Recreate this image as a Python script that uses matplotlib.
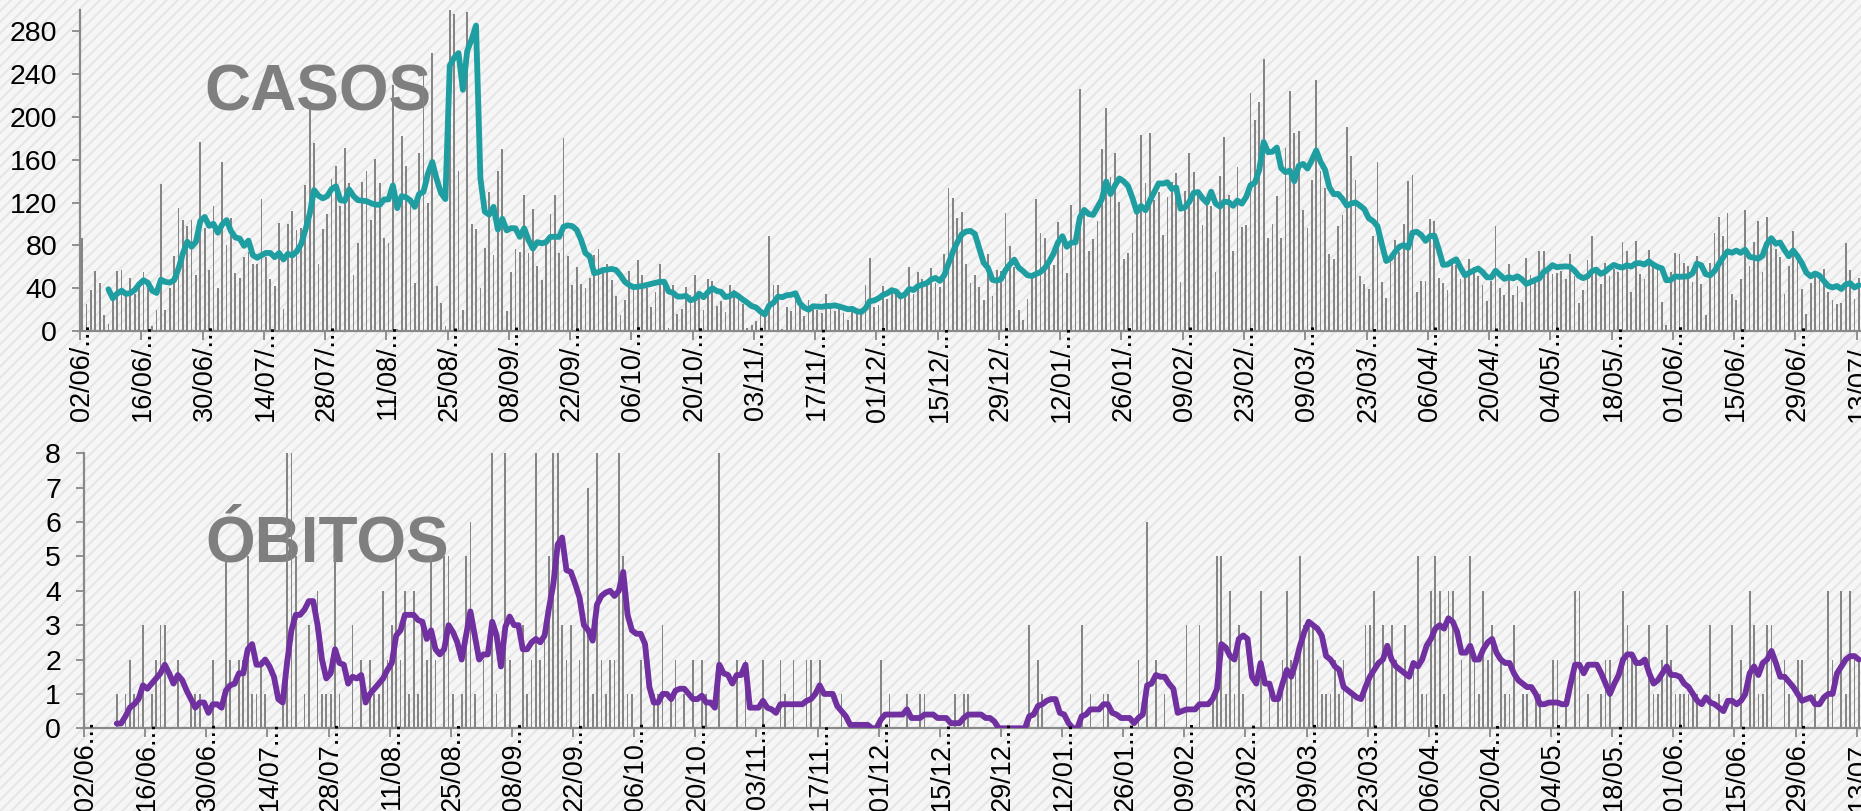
import numpy as np
import pandas as pd
import matplotlib
matplotlib.use("Agg")
import matplotlib.pyplot as plt
from matplotlib.patches import Rectangle
from matplotlib.transforms import ScaledTranslation, blended_transform_factory

# ---------------- data ----------------
inicio = "2020-06-02"

casos = [
    87, 25, 38, 56, 45, 15, 7, 28, 56, 57,
    35, 50, 35, 44, 55, 40, 5, 20, 137, 20,
    40, 70, 115, 104, 98, 104, 52, 177, 96, 57,
    117, 40, 158, 80, 106, 54, 50, 69, 74, 63,
    63, 123, 69, 49, 42, 101, 21, 100, 112, 94,
    96, 136, 208, 176, 63, 95, 109, 142, 154, 117,
    171, 138, 52, 82, 139, 150, 104, 161, 138, 87,
    82, 230, 2, 182, 154, 117, 45, 166, 244, 120,
    260, 42, 26, 5, 1039, 296, 150, 20, 298, 100,
    95, 40, 78, 130, 71, 150, 170, 19, 55, 77,
    74, 127, 73, 114, 61, 48, 84, 109, 127, 73,
    180, 70, 43, 60, 44, 40, 50, 71, 77, 57,
    63, 48, 33, 15, 29, 56, 43, 66, 52, 40,
    22, 36, 63, 43, 3, 43, 16, 21, 41, 34,
    52, 37, 20, 49, 47, 23, 28, 18, 43, 38,
    30, 25, 3, 6, 9, 16, 19, 89, 43, 43,
    2, 22, 19, 29, 24, 14, 29, 25, 20, 17,
    35, 23, 19, 21, 17, 10, 20, 19, 18, 43,
    68, 22, 24, 42, 30, 38, 35, 35, 35, 60,
    35, 55, 49, 44, 59, 45, 41, 72, 134, 124,
    106, 111, 63, 45, 52, 41, 29, 72, 33, 57,
    56, 110, 79, 60, 20, 10, 30, 51, 123, 92,
    87, 63, 62, 102, 91, 54, 118, 91, 226, 110,
    75, 86, 103, 170, 208, 144, 166, 121, 67, 73,
    92, 116, 183, 138, 185, 122, 130, 90, 125, 139,
    148, 46, 131, 166, 149, 130, 99, 119, 117, 55,
    145, 181, 127, 75, 153, 97, 99, 222, 197, 214,
    254, 87, 100, 126, 87, 171, 224, 185, 187, 113,
    96, 141, 235, 150, 134, 72, 67, 98, 108, 191,
    164, 141, 51, 44, 39, 89, 158, 46, 31, 68,
    85, 74, 100, 140, 146, 36, 47, 47, 105, 103,
    50, 45, 38, 66, 62, 49, 54, 67, 60, 51,
    43, 28, 47, 98, 40, 34, 63, 34, 42, 27,
    68, 52, 47, 75, 75, 61, 53, 54, 56, 49,
    72, 51, 26, 38, 66, 89, 60, 44, 64, 51,
    58, 55, 83, 75, 36, 84, 53, 49, 76, 62,
    59, 27, 6, 55, 73, 72, 64, 61, 46, 70,
    44, 15, 64, 92, 107, 89, 110, 35, 29, 49,
    113, 61, 83, 103, 55, 107, 85, 77, 69, 35,
    61, 93, 69, 39, 16, 45, 53, 48, 58, 36,
    29, 25, 26, 82, 57, 30, 50,
]

obitos = [
    0, 0, 0, 0, 0, 0, 0, 1, 0, 1,
    2, 1, 1, 3, 0, 1, 2, 3, 3, 0,
    0, 2, 0, 0, 1, 1, 1, 0, 0, 2,
    0, 0, 5, 2, 0, 2, 2, 5, 1, 1,
    2, 1, 0, 0, 0, 1, 8, 9, 5, 0,
    1, 3, 0, 4, 1, 1, 1, 5, 1, 0,
    0, 3, 0, 2, 0, 2, 1, 1, 4, 2,
    3, 5, 2, 4, 1, 4, 1, 3, 2, 5,
    2, 0, 5, 5, 1, 0, 1, 5, 6, 1,
    0, 2, 0, 8, 1, 0, 9, 2, 0, 0,
    3, 1, 2, 8, 2, 3, 5, 8, 8, 3,
    2, 3, 0, 2, 3, 7, 1, 11, 2, 1,
    2, 2, 9, 5, 1, 1, 0, 2, 0, 0,
    1, 1, 3, 0, 1, 2, 0, 1, 0, 2,
    0, 2, 1, 0, 0, 9, 0, 0, 0, 2,
    0, 2, 0, 0, 0, 2, 0, 0, 0, 2,
    1, 0, 2, 0, 0, 2, 2, 0, 2, 0,
    0, 0, 0, 1, 0, 0, 0, 0, 0, 0,
    0, 0, 2, 0, 1, 0, 0, 0, 1, 0,
    0, 1, 1, 0, 0, 0, 0, 0, 0, 1,
    0, 1, 1, 0, 0, 0, 0, 0, 0, 0,
    0, 0, 0, 0, 0, 0, 3, 0, 2, 1,
    0, 0, 0, 0, 0, 0, 0, 0, 3, 0,
    1, 0, 0, 1, 1, 0, 0, 0, 0, 0,
    0, 2, 0, 6, 0, 2, 0, 1, 0, 0,
    0, 0, 3, 0, 0, 3, 0, 0, 1, 5,
    5, 1, 4, 1, 3, 1, 0, 0, 0, 4,
    0, 1, 0, 1, 2, 4, 2, 2, 5, 3,
    3, 3, 2, 1, 1, 1, 2, 1, 2, 0,
    1, 0, 0, 3, 3, 4, 0, 3, 0, 3,
    2, 0, 3, 0, 2, 5, 1, 1, 4, 5,
    4, 1, 4, 4, 0, 2, 0, 5, 2, 1,
    4, 2, 3, 0, 2, 1, 1, 3, 0, 1,
    1, 0, 1, 1, 0, 0, 2, 2, 0, 1,
    0, 4, 4, 0, 1, 0, 0, 1, 2, 2,
    0, 0, 4, 3, 2, 2, 0, 0, 3, 1,
    1, 2, 3, 2, 1, 1, 1, 1, 1, 1,
    0, 0, 3, 0, 1, 0, 0, 3, 0, 2,
    0, 4, 3, 1, 1, 3, 3, 0, 0, 2,
    1, 0, 2, 2, 0, 0, 1, 0, 0, 4,
    2, 0, 4, 1, 4, 2, 2,
]

obitos_media = [
    None, None, None, None, None, None, None, 0.14, 0.14, 0.35,
    0.6, 0.7, 0.85, 1.25, 1.15, 1.3, 1.45, 1.6, 1.85, 1.6,
    1.3, 1.55, 1.4, 1.1, 0.85, 0.6, 0.75, 0.75, 0.45, 0.7,
    0.7, 0.6, 1.1, 1.25, 1.3, 1.6, 1.6, 2.3, 2.45, 1.85,
    1.85, 2.0, 1.8, 1.5, 0.85, 0.75, 1.9, 2.85, 3.3, 3.3,
    3.45, 3.7, 3.7, 3.0, 2.0, 1.45, 1.6, 2.3, 1.9, 1.85,
    1.3, 1.5, 1.45, 1.55, 0.75, 1.0, 1.15, 1.3, 1.45, 1.7,
    1.9, 2.7, 2.85, 3.3, 3.3, 3.3, 3.15, 3.1, 2.6, 2.85,
    2.3, 2.15, 2.3, 3.0, 2.8, 2.5, 2.0, 2.7, 3.4, 2.7,
    2.0, 2.15, 2.15, 3.1, 2.7, 1.8, 2.95, 3.25, 3.0, 3.0,
    2.3, 2.3, 2.5, 2.6, 2.5, 2.7, 3.5, 4.2, 5.35, 5.55,
    4.6, 4.55, 4.2, 3.8, 3.0, 2.85, 2.55, 3.6, 3.85, 3.95,
    4.0, 3.85, 4.0, 4.55, 3.3, 2.85, 2.75, 2.75, 2.45, 1.2,
    0.75, 0.75, 1.0, 1.0, 0.85, 1.1, 1.15, 1.15, 1.0, 0.85,
    0.85, 0.95, 0.75, 0.75, 0.6, 1.85, 1.6, 1.55, 1.3, 1.55,
    1.55, 1.85, 0.6, 0.6, 0.6, 0.8, 0.6, 0.55, 0.45, 0.7,
    0.7, 0.7, 0.7, 0.7, 0.7, 0.8, 0.85, 1.0, 1.25, 1.0,
    1.0, 1.0, 0.65, 0.5, 0.35, 0.1, 0.1, 0.1, 0.1, 0.1,
    0.0, 0.0, 0.25, 0.4, 0.4, 0.4, 0.4, 0.4, 0.55, 0.3,
    0.3, 0.3, 0.4, 0.4, 0.4, 0.3, 0.3, 0.3, 0.15, 0.15,
    0.15, 0.3, 0.4, 0.4, 0.4, 0.4, 0.3, 0.3, 0.2, 0.0,
    0.0, 0.0, 0.0, 0.0, 0.0, 0.0, 0.35, 0.4, 0.65, 0.7,
    0.8, 0.85, 0.85, 0.45, 0.4, 0.15, 0.0, 0.0, 0.35, 0.4,
    0.55, 0.55, 0.55, 0.7, 0.7, 0.45, 0.4, 0.3, 0.3, 0.3,
    0.15, 0.3, 0.4, 1.25, 1.3, 1.55, 1.5, 1.5, 1.3, 1.15,
    0.45, 0.5, 0.55, 0.55, 0.55, 0.7, 0.7, 0.7, 0.85, 1.15,
    2.45, 2.35, 2.1, 2.0, 2.6, 2.7, 2.6, 1.5, 1.3, 1.9,
    1.3, 1.3, 0.85, 0.85, 1.3, 1.7, 1.5, 1.9, 2.4, 2.8,
    3.1, 3.0, 2.9, 2.7, 2.1, 2.0, 1.8, 1.7, 1.2, 1.1,
    1.0, 0.9, 0.85, 1.2, 1.5, 1.7, 1.9, 2.0, 2.4, 2.0,
    1.8, 1.7, 1.6, 1.5, 1.9, 1.8, 2.0, 2.4, 2.6, 2.9,
    3.0, 2.9, 3.2, 3.1, 2.8, 2.2, 2.2, 2.4, 2.0, 2.0,
    2.3, 2.5, 2.6, 2.2, 2.0, 1.9, 1.9, 1.6, 1.4, 1.3,
    1.2, 1.2, 1.0, 0.7, 0.7, 0.75, 0.75, 0.75, 0.7, 0.7,
    1.3, 1.85, 1.85, 1.6, 1.85, 1.85, 1.85, 1.6, 1.3, 1.0,
    1.3, 1.55, 2.0, 2.15, 2.15, 1.9, 1.9, 2.0, 1.6, 1.3,
    1.4, 1.6, 1.8, 1.55, 1.55, 1.5, 1.3, 1.2, 1.0, 0.8,
    0.7, 0.9, 0.75, 0.7, 0.6, 0.5, 0.8, 0.8, 0.7, 0.8,
    1.0, 1.6, 1.8, 1.55, 1.9, 2.0, 2.25, 1.9, 1.5, 1.5,
    1.35, 1.2, 1.0, 0.8, 0.85, 0.9, 0.7, 0.7, 0.9, 1.0,
    1.0, 1.6, 1.8, 2.0, 2.1, 2.1, 2.0,
]

datas_rotulos = ["02/06", "16/06", "30/06", "14/07", "28/07", "11/08", "25/08",
                 "08/09", "22/09", "06/10", "20/10", "03/11", "17/11", "01/12",
                 "15/12", "29/12", "12/01", "26/01", "09/02", "23/02", "09/03",
                 "23/03", "06/04", "20/04", "04/05", "18/05", "01/06", "15/06",
                 "29/06", "13/07"]
rotulos_casos = [d + "/..." for d in datas_rotulos]
rotulos_obitos = [d + "..." for d in datas_rotulos]

yticks_casos = [0, 40, 80, 120, 160, 200, 240, 280]
yticks_obitos = [0, 1, 2, 3, 4, 5, 6, 7, 8]

# ---------------- figure ----------------
W, H = 1861, 811
plt.rcParams["font.family"] = ["Liberation Sans", "DejaVu Sans"]
plt.rcParams["hatch.linewidth"] = 1.5

fig = plt.figure(figsize=(W / 100, H / 100), dpi=100)
bg = Rectangle((0, 0), 1, 1, transform=fig.transFigure, facecolor="#f6f6f6",
               edgecolor="#e6e6e6", hatch="///", linewidth=0, zorder=-10)
fig.patches.append(bg)

dias = pd.date_range(inicio, periods=len(casos), freq="D")
x = np.arange(len(dias))
media_casos = pd.Series(casos, dtype=float).rolling(7).mean()
media_obitos = np.array([np.nan if v is None else v for v in obitos_media], dtype=float)

GRAY = "#898989"
BAR = "#858585"
TEAL = "#1f9ea2"
PURPLE = "#7030a0"
TITLE = "#7f7f7f"

tick_pos = [-0.5 + 14 * k for k in range(len(datas_rotulos))]


def style_axis(ax, yticks, labels, ylim):
    ax.set_xlim(-0.5, 406.5)
    ax.set_ylim(*ylim)
    ax.patch.set_alpha(0)
    for s in ("top", "right"):
        ax.spines[s].set_visible(False)
    for s in ("left", "bottom"):
        ax.spines[s].set_color(GRAY)
        ax.spines[s].set_linewidth(1.6)
    ax.set_yticks(yticks)
    ax.tick_params(axis="y", length=5.5, width=1.3, color=GRAY, labelsize=20.5,
                   pad=11, labelcolor="black")
    ax.set_xticks(tick_pos)
    ax.set_xticklabels([])
    ax.tick_params(axis="x", length=6.5, width=1.3, color=GRAY, direction="out")
    tr = blended_transform_factory(ax.transData, ax.transAxes) + \
        ScaledTranslation(2 / 100, 8 / 100, fig.dpi_scale_trans)
    for p, lab in zip(tick_pos, labels):
        ax.text(p, 0, lab, rotation=90, ha="center", va="top", transform=tr,
                fontsize=19.5, color="black", clip_on=False)


# top: casos
ax1 = fig.add_axes([80 / W, 1 - 331 / H, 1 - 80 / W, (331 - 10) / H])
ax1.bar(x, casos, width=0.4, color=BAR, zorder=2)
ax1.plot(x, media_casos, color=TEAL, lw=4.2, zorder=3, solid_joinstyle="round",
         solid_capstyle="round")
style_axis(ax1, yticks_casos, rotulos_casos, (0, 300))
ax1.text(28.0, 206.5, "CASOS", fontsize=46, fontweight="bold", color=TITLE,
         ha="left", va="baseline", zorder=1)

# bottom: obitos
ax2 = fig.add_axes([84 / W, 1 - 728.3 / H, 1 - 84 / W, (728.3 - 453.3) / H])
ax2.bar(x, obitos, width=0.4, color=BAR, zorder=2)
ax2.plot(x, media_obitos, color=PURPLE, lw=4.2, zorder=3, solid_joinstyle="round",
         solid_capstyle="round")
style_axis(ax2, yticks_obitos, rotulos_obitos, (0, 8))
ax2.text(27.2, 4.84, "ÓBITOS", fontsize=46, fontweight="bold", color=TITLE,
         ha="left", va="baseline", zorder=1)

fig.savefig("out.png", dpi=100)
